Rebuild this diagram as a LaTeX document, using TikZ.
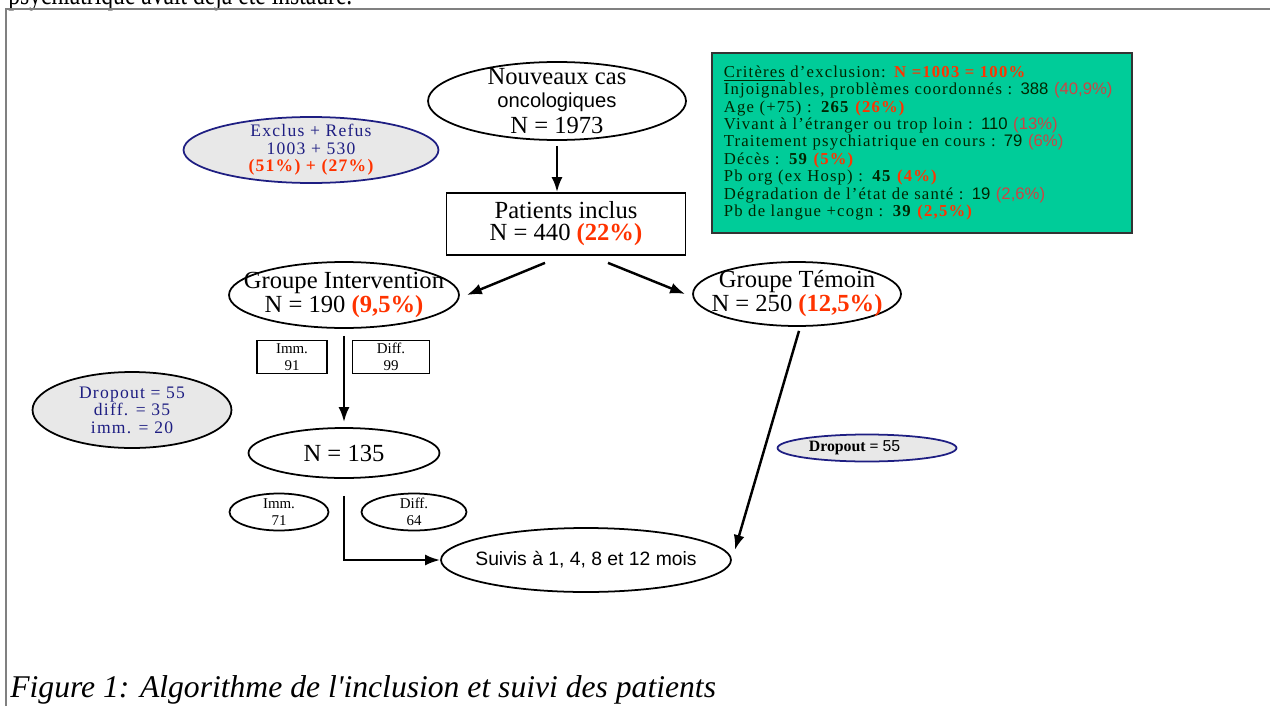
\documentclass[tikz,border=0pt]{standalone}
\usepackage{fontspec}
\usepackage{graphicx}
\setmainfont{Liberation Serif}
\setsansfont{Liberation Sans}
\newfontfamily\espace[LetterSpace=7]{Liberation Serif}
\usetikzlibrary{shapes.geometric,arrows.meta}
\definecolor{vertcrit}{RGB}{0,204,153}
\definecolor{bleufonce}{RGB}{30,30,130}
\definecolor{rougepct}{RGB}{255,51,0}
\definecolor{rougeclair}{RGB}{204,68,68}
\definecolor{grisfond}{RGB}{232,232,232}
\tikzset{
	ovale/.style={ellipse,draw,line width=1pt,inner sep=-0.5cm,align=center,font=\fontsize{14}{12.5}\selectfont},
	ovalegris/.style={ovale,fill=grisfond,text=bleufonce,font=\espace\fontsize{10}{10}\selectfont},
	boite/.style={rectangle,draw,line width=1pt,inner sep=0pt,align=center},
	fleche/.style={->,line width=1.4pt},
}
\newcommand{\pct}[1]{{\bfseries\color{rougepct}#1}}
\begin{document}
\begin{tikzpicture}[x=0.02cm,y=-0.02cm,>={Latex[length=3mm,width=2.2mm]}]
	\useasboundingbox (0,0) rectangle (1270,706);
	%\draw[lightgray] (0,0) grid (1270,706);
	\begin{scope}
		\clip (0,0) rectangle (1270,706);
		\node[anchor=base west,inner sep=0pt,font=\fontsize{17}{17}\selectfont] (haut) at (8,5) {\scalebox{0.79}[1]{psychiatrique avait déjà été instauré.}};
	\end{scope}
	\draw[gray,line width=1pt] (6,706) -- (6,9) -- (1270,9);
	% noeuds
	\node[ovale,minimum width=5.16cm,minimum height=1.56cm,font=\fontsize{14}{13}\selectfont] (nouveaux) at (557,101) {Nouveaux cas\\{\sffamily\fontsize{11.5}{12}\selectfont oncologiques}\\[2pt]N = 1973};
	\node[ovalegris,draw=bleufonce,minimum width=5.1cm,minimum height=1.32cm] (exclus) at (311,150) {Exclus + Refus\\1003 + 530\\\pct{(51\%) + (27\%)}};
	\node[boite,minimum width=4.78cm,minimum height=1.24cm,font=\fontsize{14}{12.5}\selectfont] (inclus) at (566,224) {Patients inclus\\N = 440 \pct{(22\%)}};
	\node[draw=black!80,line width=1pt,fill=vertcrit,anchor=north west,minimum height=3.6cm,text width=7.92cm,inner xsep=0.24cm,align=left,font=\espace\fontsize{9.5}{9.9}\selectfont,text=black!85!green] (criteres) at (711,52) {\underline{Critères} d’exclusion: \pct{N =1003 = 100\%}\\
		Injoignables, problèmes coordonnés : {\sffamily 388 \color{rougeclair}(40,9\%)}\\
		Age (+75) : \textbf{265} \pct{(26\%)}\\
		Vivant à l’étranger ou trop loin : {\sffamily 110 \color{rougeclair}(13\%)}\\
		Traitement psychiatrique en cours : {\sffamily 79 \color{rougeclair}(6\%)}\\
		Décès : \textbf{59} \pct{(5\%)}\\
		Pb org (ex Hosp) : \textbf{45} \pct{(4\%)}\\
		Dégradation de l’état de santé : {\sffamily 19 \color{rougeclair}(2,6\%)}\\
		Pb de langue +cogn : \textbf{39} \pct{(2,5\%)}};
	\node[ovale,minimum width=4.6cm,minimum height=1.32cm] (interv) at (344,295) {Groupe Intervention\\N = 190 \pct{(9,5\%)}};
	\node[ovale,minimum width=4.16cm,minimum height=1.28cm] (temoin) at (797,294) {Groupe Témoin\\N = 250 \pct{(12,5\%)}};
	\node[boite,minimum width=1.4cm,minimum height=0.66cm,font=\fontsize{8.5}{9.5}\selectfont] (imm1) at (292,357) {Imm.\\91};
	\node[boite,minimum width=1.54cm,minimum height=0.66cm,font=\fontsize{8.5}{9.5}\selectfont] (diff1) at (391,357) {Diff.\\99};
	\node[ovalegris,minimum width=3.98cm,minimum height=1.52cm] (dropg) at (132,410) {Dropout = 55\\diff. = 35\\imm. = 20};
	\node[ovale,minimum width=3.82cm,minimum height=1cm] (n135) at (344,453) {N = 135};
	\node[ovale,minimum width=1.98cm,minimum height=0.74cm,font=\fontsize{8.5}{9.5}\selectfont] (imm2) at (279,512) {Imm.\\71};
	\node[ovale,minimum width=2.1cm,minimum height=0.74cm,font=\fontsize{8.5}{9.5}\selectfont] (diff2) at (414,512) {Diff.\\64};
	\node[ovale,minimum width=5.8cm,minimum height=1.28cm,font=\sffamily\fontsize{11}{12}\selectfont] (suivis) at (586,560) {Suivis à 1, 4, 8 et 12 mois};
	\node[ovalegris,draw=bleufonce,text=black,minimum width=3.58cm,minimum height=0.54cm,font=\fontsize{9}{10}\selectfont] (dropd) at (867,448) {\textbf{Dropout =} {\sffamily 55}\hspace{0.5cm}};
	% fleches
	\draw[fleche] ([yshift=-0.1cm]nouveaux.south) -- (nouveaux.south |- inclus.north);
	\draw[fleche] ([xshift=-0.42cm,yshift=-0.14cm]inclus.south) -- ([xshift=0.14cm]interv.east);
	\draw[fleche] ([xshift=0.84cm,yshift=-0.14cm]inclus.south) -- ([xshift=-0.14cm]temoin.west);
	\draw[fleche] ([yshift=-0.14cm]interv.south) -- ([yshift=0.1cm]n135.north);
	\draw[fleche] ([yshift=-0.34cm]n135.south) |- (suivis.west);
	\draw[fleche] ([xshift=0.04cm,yshift=-0.08cm]temoin.south) -- ([xshift=0.06cm,yshift=0.2cm]suivis.east);
	\node[anchor=base west,inner sep=0pt,font=\itshape\fontsize{18}{18}\selectfont] (legende) at (10,697) {Figure 1: Algorithme de l\textquotesingle inclusion et suivi des patients};
\end{tikzpicture}
\end{document}
